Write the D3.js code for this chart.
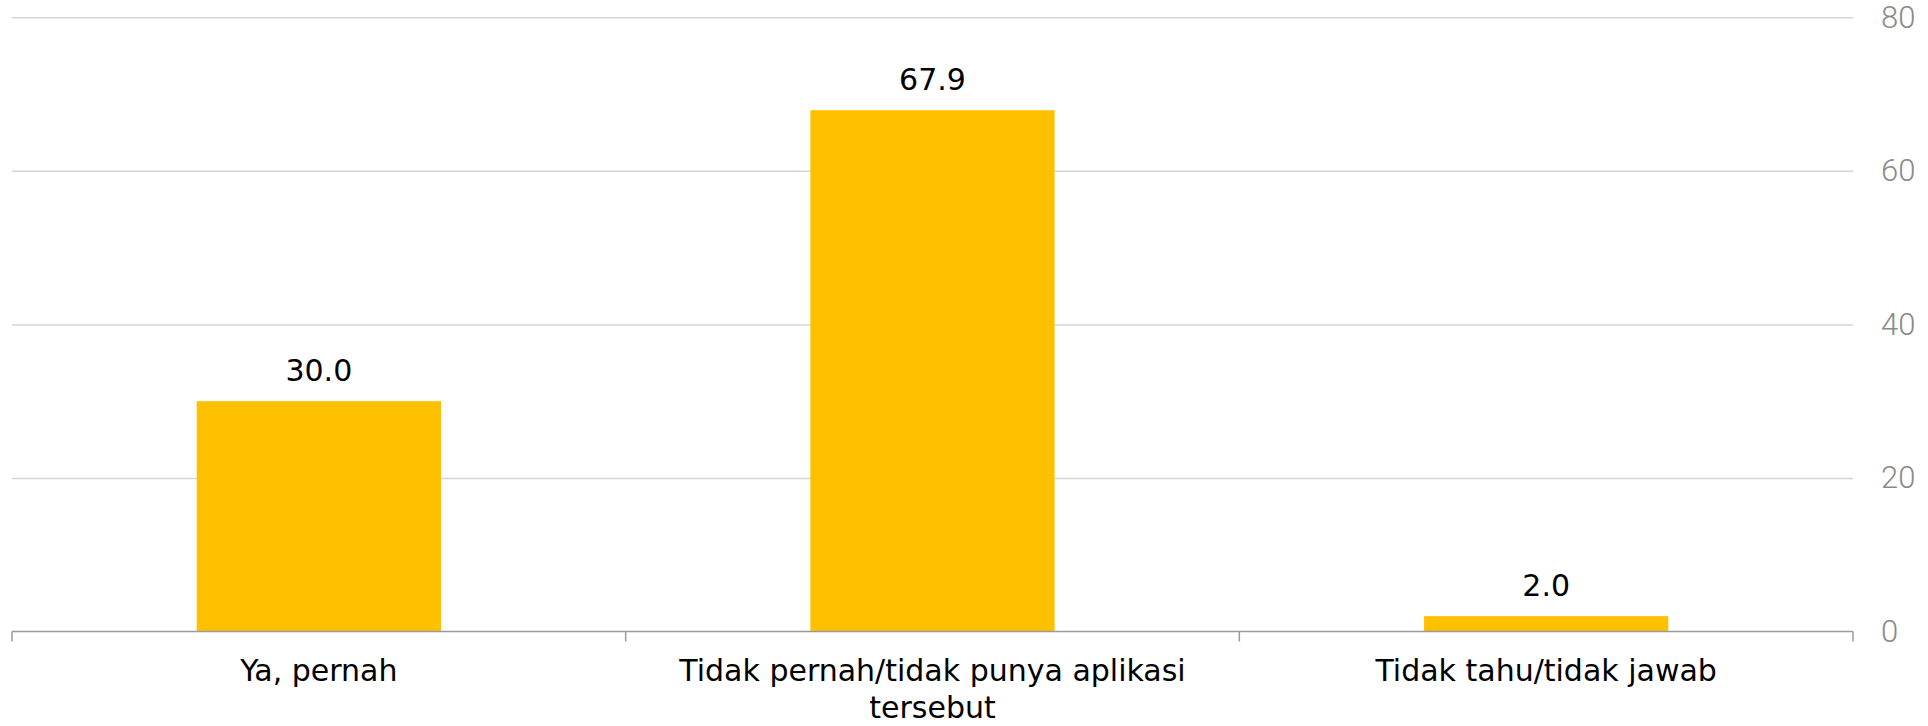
<!DOCTYPE html>
<html>
<head>
<meta charset="utf-8">
<script src="https://cdn.jsdelivr.net/npm/d3@7"></script>
<style>
  html, body { margin: 0; padding: 0; background: #ffffff; }
  svg { display: block; }
</style>
</head>
<body>
<svg id="chart" width="1928" height="726"></svg>
<script>
// Survey answers and their shares (%)
const categories = ["Ya, pernah", "Tidak pernah/tidak punya aplikasi tersebut", "Tidak tahu/tidak jawab"];
const values = [30.0, 67.9, 2.0];
const yTicks = [0, 20, 40, 60, 80];

const W = 1928, H = 726;
const plot = { left: 12, right: 1853, top: 17.3, bottom: 631.5 };

const svg = d3.select("#chart");

const x = d3.scaleBand().domain(categories).range([plot.left, plot.right]).padding(0);
const y = d3.scaleLinear().domain([0, 80]).range([plot.bottom, plot.top]);
const barW = x.bandwidth() * 0.398;

// Horizontal gridlines
const grid = svg.append("g")
  .attr("transform", `translate(${plot.left},0)`)
  .call(d3.axisLeft(y).tickValues(yTicks.filter(d => d > 0)).tickSize(-(plot.right - plot.left)).tickFormat(""));
grid.select(".domain").remove();
grid.selectAll(".tick line").attr("stroke", "#d4d4d4").attr("stroke-width", 1.5);

// Value axis on the right
const yAxis = svg.append("g")
  .attr("transform", `translate(${plot.right},0)`)
  .call(d3.axisRight(y).tickValues(yTicks).tickSize(0).tickPadding(28));
yAxis.select(".domain").remove();
yAxis.selectAll(".tick text")
  .attr("fill", "#8a8a8a")
  .style("font-family", "Roboto, 'Open Sans', sans-serif")
  .style("font-weight", 300)
  .style("font-size", "31px");

// Bars
svg.append("g").selectAll("rect")
  .data(categories)
  .join("rect")
  .attr("x", (d) => x(d) + (x.bandwidth() - barW) / 2)
  .attr("width", barW)
  .attr("y", (d, i) => y(values[i]))
  .attr("height", (d, i) => y(0) - y(values[i]))
  .attr("fill", "#FFC000");

// Value labels
svg.append("g").selectAll("text")
  .data(categories)
  .join("text")
  .attr("x", d => x(d) + x.bandwidth() / 2)
  .attr("y", (d, i) => y(values[i]) - 20)
  .attr("text-anchor", "middle")
  .attr("fill", "#000")
  .style("font-family", "'DejaVu Sans', sans-serif")
  .style("font-size", "30px")
  .text((d, i) => values[i].toFixed(1));

// Category axis: baseline and boundary ticks
const axisColor = "#9a9a9a";
svg.append("line")
  .attr("x1", plot.left).attr("x2", plot.right)
  .attr("y1", y(0)).attr("y2", y(0))
  .attr("stroke", axisColor).attr("stroke-width", 1.5);
const bounds = categories.map(d => x(d)).concat([x.range()[1]]);
svg.append("g").selectAll("line")
  .data(bounds)
  .join("line")
  .attr("x1", d => d).attr("x2", d => d)
  .attr("y1", y(0)).attr("y2", y(0) + 10)
  .attr("stroke", axisColor).attr("stroke-width", 1.5);

// Category labels, wrapped to the band width
const maxLabelW = x.bandwidth() * 0.9;
const labels = svg.append("g").selectAll("text")
  .data(categories)
  .join("text")
  .attr("text-anchor", "middle")
  .attr("fill", "#000")
  .style("font-family", "'DejaVu Sans', sans-serif")
  .style("font-size", "30px");

labels.each(function(d) {
  const t = d3.select(this);
  const cx = x(d) + x.bandwidth() / 2;
  const words = d.split(" ");
  const lines = [];
  let line = [];
  const probe = t.append("tspan");
  words.forEach(w => {
    const test = line.concat([w]).join(" ");
    probe.text(test);
    if (probe.node().getComputedTextLength() > maxLabelW && line.length) {
      lines.push(line.join(" "));
      line = [w];
    } else {
      line.push(w);
    }
  });
  lines.push(line.join(" "));
  probe.remove();
  lines.forEach((l, i) => {
    t.append("tspan").attr("x", cx).attr("y", 681 + i * 37).text(l);
  });
});
</script>
</body>
</html>
